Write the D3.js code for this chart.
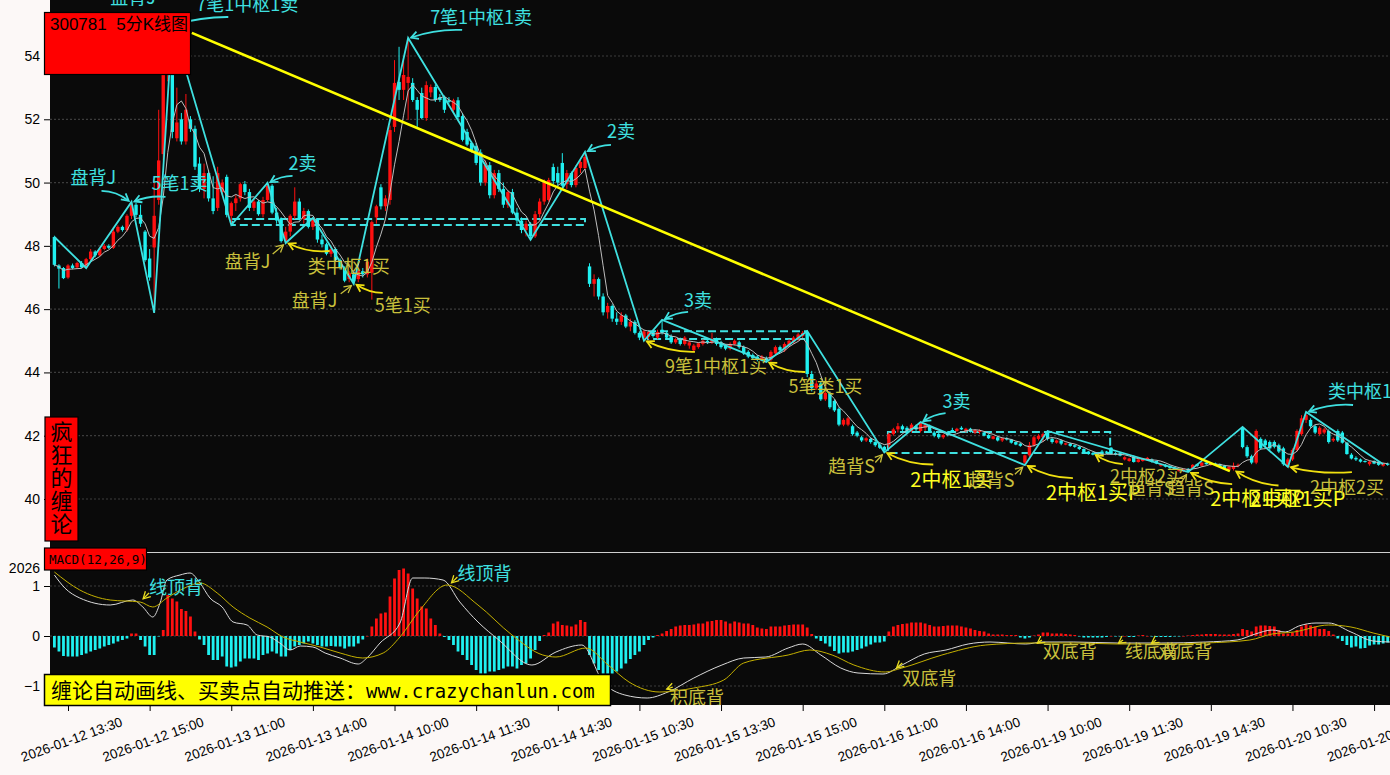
<!DOCTYPE html>
<html><head><meta charset="utf-8">
<script src="https://cdn.jsdelivr.net/npm/d3@7"></script>
<style>
html,body{margin:0;padding:0;background:#fcf8f7;}
svg{display:block;}
</style></head><body>
<svg id="c" width="1390" height="775"></svg>
<script>
// ---------- DATA ----------
// 5-minute bars of 300781, [open, high, low, close]
const bars = [
[48.28,48.32,47.35,47.40],[47.38,47.42,46.65,47.28],[47.30,47.33,46.95,46.98],[47.00,47.42,46.96,47.38],[47.38,47.44,47.26,47.30],
[47.32,47.50,47.28,47.46],[47.46,47.52,47.30,47.32],[47.32,47.62,47.30,47.58],[47.58,47.90,47.52,47.82],[47.82,47.86,47.64,47.70],
[47.70,47.96,47.66,47.90],[47.90,48.06,47.86,48.00],[48.00,48.05,47.90,47.94],[47.94,48.60,47.90,48.45],[48.45,48.65,48.40,48.60],
[48.60,48.64,48.45,48.50],[48.50,49.00,48.45,48.95],[48.95,49.39,48.85,49.30],[49.30,49.36,48.90,48.98],[48.98,49.30,48.60,48.70],
[48.45,48.50,47.50,47.55],[47.60,47.90,46.90,47.00],[47.95,50.10,45.88,48.95],[49.45,52.30,49.30,50.70],[50.90,53.90,50.70,53.50],
[53.50,54.90,53.20,54.60],[54.70,54.98,51.40,51.60],[51.40,53.00,51.30,51.90],[52.00,52.20,51.20,51.30],[51.30,52.80,51.20,52.30],
[52.00,52.10,51.60,51.70],[51.70,51.80,50.40,50.50],[50.60,50.80,49.70,49.80],[49.80,50.60,49.50,50.30],[50.30,50.40,49.40,49.50],
[49.50,50.20,49.00,49.10],[49.20,50.50,49.10,50.30],[49.70,50.10,49.60,50.00],[50.18,50.25,48.90,48.98],[48.95,49.40,48.66,49.35],
[49.35,49.60,49.10,49.50],[49.50,50.00,49.40,49.95],[49.95,50.05,49.60,49.70],[49.70,49.80,49.10,49.20],[49.20,49.50,49.10,49.40],
[49.40,49.45,48.95,49.00],[49.00,49.55,48.90,49.45],[49.45,49.99,49.40,49.90],[49.90,49.95,49.00,49.05],[49.05,49.20,48.70,48.80],
[48.85,48.90,48.10,48.15],[48.15,48.60,48.09,48.45],[48.45,49.00,48.30,48.95],[48.95,49.85,48.85,49.40],[49.40,49.50,48.80,48.85],
[48.85,49.20,48.70,49.10],[49.10,49.15,48.55,48.60],[48.60,48.88,48.50,48.85],[48.85,48.87,48.10,48.20],[48.20,48.35,47.95,48.05],
[48.05,48.10,47.70,47.75],[47.75,48.00,47.65,47.90],[47.90,47.95,47.50,47.55],[47.55,47.60,47.25,47.30],[47.30,47.35,46.85,46.90],
[46.95,47.20,46.85,47.15],[47.10,47.20,46.80,46.88],[46.95,47.25,46.85,47.20],[47.20,47.30,47.00,47.10],[47.10,47.60,47.00,47.50],
[47.15,48.80,46.30,48.75],[48.90,49.30,48.70,49.25],[49.85,49.95,49.15,49.25],[49.25,49.60,49.10,49.50],[49.45,51.80,49.30,51.66],
[51.76,53.87,51.60,53.15],[53.18,54.29,52.61,52.93],[52.93,53.87,52.61,53.40],[53.15,54.57,51.98,53.34],[53.15,53.30,52.55,52.61],
[52.61,52.70,51.76,52.30],[52.83,53.00,52.00,52.04],[52.04,53.20,51.95,53.08],[52.85,53.10,52.70,53.02],[53.02,53.10,52.55,52.61],
[52.70,52.80,52.55,52.61],[52.70,52.75,52.20,52.30],[52.60,52.70,52.50,52.55],[52.30,52.65,52.20,52.60],[52.60,52.70,52.00,52.07],
[52.10,52.20,51.30,51.35],[51.60,51.70,51.15,51.20],[51.25,51.30,50.95,51.03],[51.15,51.25,50.55,50.62],[50.95,51.05,49.90,50.00],
[50.00,50.70,49.90,50.55],[50.55,50.65,49.50,49.60],[49.60,50.40,49.50,50.30],[50.30,50.40,49.70,49.80],[49.80,50.00,49.20,49.30],
[49.30,49.75,49.20,49.70],[49.70,49.80,49.00,49.05],[49.05,49.20,48.70,48.80],[48.80,48.90,48.40,48.50],[48.50,48.80,48.30,48.70],
[48.70,48.75,48.19,48.30],[48.30,49.10,48.25,49.00],[49.00,49.50,48.90,49.40],[49.40,50.10,49.30,50.00],[49.45,50.15,49.40,50.08],
[50.49,50.60,49.95,50.05],[50.30,50.50,49.90,50.00],[50.62,50.93,49.85,49.90],[49.95,50.40,49.80,50.30],[50.30,50.35,49.85,49.92],
[49.92,50.55,49.85,50.46],[50.46,50.75,50.30,50.65],[50.46,50.97,50.40,50.81],[47.35,47.45,46.70,46.80],[46.80,47.10,46.40,46.95],
[46.95,47.00,46.30,46.40],[46.40,46.50,45.80,45.90],[45.90,46.20,45.70,46.10],[46.10,46.15,45.60,45.70],[45.70,45.90,45.50,45.60],
[45.60,45.90,45.50,45.80],[45.80,45.85,45.40,45.45],[45.45,45.70,45.30,45.60],[45.60,45.65,45.20,45.25],[45.25,45.30,45.02,45.10],
[45.10,45.35,45.00,45.30],[45.12,45.30,45.05,45.28],[45.28,45.35,45.10,45.15],[45.10,45.35,45.05,45.28],[45.35,45.66,45.20,45.25],
[45.25,45.30,45.05,45.10],[45.15,45.20,44.90,44.95],[44.95,45.10,44.90,45.05],[45.05,45.10,44.85,44.90],[44.90,45.15,44.85,45.10],
[44.85,45.00,44.75,44.95],[44.70,44.90,44.65,44.85],[44.80,44.95,44.75,44.92],[44.90,45.05,44.85,45.00],[45.00,45.05,44.90,44.95],
[44.95,45.25,44.90,45.05],[45.05,45.10,44.85,44.90],[44.95,45.00,44.75,44.80],[44.85,44.90,44.70,44.75],[44.75,44.95,44.70,44.90],
[44.90,45.05,44.85,45.00],[44.95,45.00,44.75,44.80],[44.80,44.85,44.55,44.60],[44.65,44.70,44.45,44.50],[44.55,44.60,44.40,44.45],
[44.50,44.55,44.35,44.40],[44.40,44.55,44.35,44.50],[44.45,44.50,44.33,44.38],[44.40,44.70,44.35,44.65],[44.60,44.85,44.55,44.80],
[44.80,44.85,44.65,44.70],[44.70,44.95,44.65,44.90],[44.85,45.05,44.80,45.00],[44.95,45.15,44.90,45.10],[45.05,45.25,45.00,45.20],
[45.15,45.31,45.10,45.25],[45.28,45.31,43.85,43.95],[43.95,44.05,43.40,43.50],[43.50,43.75,43.45,43.65],[43.65,43.70,43.10,43.15],
[43.15,43.40,43.10,43.35],[43.35,43.40,42.85,42.90],[43.10,43.15,42.75,42.80],[42.85,42.90,42.30,42.35],[42.35,42.55,42.30,42.50],
[42.35,42.60,42.30,42.55],[42.30,42.35,42.00,42.05],[42.10,42.15,41.95,42.00],[41.95,42.00,41.80,41.85],[41.85,41.95,41.80,41.92],
[41.90,41.95,41.75,41.80],[41.80,41.85,41.65,41.70],[41.72,41.78,41.58,41.62],[41.65,41.68,41.47,41.55],[41.70,42.10,41.60,42.05],
[42.05,42.25,42.00,42.20],[42.20,42.40,42.10,42.30],[42.30,42.35,42.15,42.20],[42.25,42.30,42.05,42.10],[42.15,42.40,42.10,42.35],
[42.30,42.35,42.15,42.20],[42.15,42.43,42.10,42.40],[42.25,42.40,42.15,42.35],[42.30,42.35,42.10,42.15],[42.10,42.15,41.95,42.00],
[42.05,42.10,41.90,41.95],[41.95,42.05,41.90,42.02],[42.10,42.15,41.98,42.02],[42.18,42.25,42.10,42.12],[42.15,42.25,42.12,42.22],
[42.25,42.30,42.18,42.20],[42.15,42.25,42.10,42.22],[42.22,42.25,42.10,42.12],[42.10,42.20,42.05,42.18],[42.12,42.20,42.05,42.15],
[42.10,42.12,41.98,42.00],[42.02,42.05,41.90,41.92],[41.90,42.00,41.88,41.98],[41.95,42.00,41.82,41.85],[41.85,41.95,41.80,41.92],
[41.92,41.95,41.85,41.88],[41.88,41.90,41.75,41.78],[41.80,41.82,41.70,41.72],[41.75,41.78,41.65,41.68],[41.15,41.40,41.07,41.38],
[41.38,41.80,41.30,41.70],[41.70,42.00,41.65,41.95],[41.90,42.05,41.85,42.00],[41.95,42.10,41.80,42.05],[42.10,42.15,41.85,41.90],
[41.90,41.95,41.75,41.80],[41.78,41.88,41.75,41.85],[41.85,41.88,41.70,41.75],[41.72,41.78,41.70,41.76],[41.75,41.78,41.65,41.68],
[41.70,41.72,41.62,41.65],[41.65,41.68,41.55,41.58],[41.58,41.60,41.45,41.48],[41.50,41.52,41.40,41.42],[41.45,41.50,41.38,41.40],
[41.42,41.45,41.35,41.38],[41.50,41.55,41.38,41.40],[41.50,41.52,41.45,41.47],[41.62,41.64,41.40,41.42],[41.45,41.48,41.38,41.40],
[41.45,41.48,41.35,41.37],[41.25,41.35,41.22,41.32],[41.20,41.30,41.18,41.28],[41.35,41.38,41.15,41.17],[41.17,41.28,41.15,41.25],
[41.20,41.30,41.18,41.28],[41.22,41.33,41.20,41.30],[41.25,41.28,41.15,41.18],[41.20,41.22,41.10,41.12],[41.05,41.12,41.02,41.10],
[41.08,41.10,41.00,41.02],[41.05,41.06,40.95,40.98],[41.00,41.02,40.92,40.94],[40.88,40.95,40.86,40.92],[40.88,40.96,40.85,40.93],
[40.95,40.98,40.85,40.88],[40.98,41.10,40.95,41.08],[41.10,41.12,41.02,41.05],[41.05,41.18,41.02,41.15],[41.15,41.18,41.08,41.10],
[41.08,41.15,41.05,41.12],[41.12,41.15,41.05,41.08],[41.10,41.12,41.00,41.02],[41.05,41.08,40.95,40.98],[40.92,41.05,40.88,41.02],
[40.95,41.15,40.90,41.05],[41.05,41.12,41.00,41.08],[42.25,42.28,41.60,41.64],[41.64,41.70,41.30,41.35],[41.35,41.40,41.10,41.15],
[41.15,42.20,41.10,42.15],[41.90,41.95,41.55,41.60],[41.85,41.90,41.60,41.70],[41.80,41.85,41.55,41.60],[41.80,41.85,41.60,41.65],
[41.70,41.75,41.45,41.50],[41.60,41.65,41.05,41.10],[41.01,41.30,41.01,41.25],[41.25,41.60,41.20,41.55],[41.55,42.20,41.50,42.15],
[42.05,42.65,42.00,42.55],[42.50,42.75,42.40,42.65],[42.50,42.55,42.25,42.30],[42.30,42.35,42.05,42.10],[42.05,42.30,42.00,42.25],
[42.10,42.25,42.05,42.20],[42.15,42.20,41.75,41.80],[41.85,41.95,41.80,41.90],[42.15,42.20,41.80,41.85],[42.10,42.15,41.75,41.78],
[41.78,41.80,41.40,41.42],[41.40,41.45,41.25,41.28],[41.30,41.35,41.20,41.25],[41.25,41.28,41.15,41.18],[41.20,41.22,41.15,41.17],
[41.10,41.22,41.05,41.18],[41.20,41.22,41.10,41.12],[41.18,41.20,41.05,41.08],[41.05,41.15,41.02,41.12],[41.12,41.15,41.05,41.08]
];

// MACD histogram (one per bar)
const macdHist = [
-0.23,-0.31,-0.40,-0.41,-0.41,-0.41,-0.38,-0.35,-0.31,-0.28,-0.25,-0.21,-0.18,-0.15,-0.11,-0.08,-0.05,
0.05,0.05,
-0.08,-0.21,-0.38,-0.38,-0.01,
0.12,0.82,0.75,0.69,0.54,0.50,0.39,0.09,
-0.07,-0.18,-0.38,-0.48,-0.48,-0.41,-0.61,-0.63,-0.61,-0.51,-0.45,-0.45,-0.45,-0.48,-0.38,-0.35,-0.31,-0.35,-0.41,-0.41,-0.28,-0.21,-0.18,-0.15,-0.11,-0.15,-0.18,-0.21,-0.21,-0.20,-0.21,-0.21,-0.25,-0.21,-0.21,-0.15,-0.07,
0.00,
0.19,0.35,0.45,0.47,0.79,1.15,1.32,1.35,1.25,0.95,0.75,0.59,0.55,0.35,0.22,0.05,-0.02,
-0.08,-0.18,-0.31,-0.38,-0.48,-0.58,-0.68,-0.75,-0.75,-0.71,-0.71,-0.68,-0.65,-0.61,-0.61,-0.65,-0.58,-0.55,-0.45,-0.28,-0.10,
0.02,0.07,0.25,0.29,0.22,0.21,0.19,0.23,0.32,0.28,
-0.38,-0.55,-0.68,-0.75,-0.75,-0.75,-0.71,-0.65,-0.55,-0.46,-0.38,-0.31,-0.18,-0.08,-0.03,
0.02,0.05,0.10,0.14,0.19,0.21,0.22,0.22,0.23,0.25,0.25,0.29,0.30,0.32,0.32,0.29,0.25,0.29,0.27,0.25,0.25,0.22,0.17,0.15,0.14,0.19,0.19,0.19,0.21,0.22,0.23,0.23,0.23,0.17,0.04,
-0.05,-0.10,-0.15,-0.21,-0.30,-0.35,-0.33,-0.33,-0.31,-0.28,-0.25,-0.21,-0.17,-0.13,-0.13,-0.11,
0.09,0.19,0.22,0.24,0.25,0.27,0.27,0.27,0.25,0.22,0.19,0.19,0.20,0.21,0.21,0.21,0.19,0.17,0.15,0.12,0.10,0.09,0.05,0.03,0.03,0.03,0.02,0.02,0.02,
-0.03,-0.05,-0.03,0.01,0.03,0.07,0.07,0.05,0.05,0.05,0.04,0.03,0.02,-0.01,-0.03,-0.03,-0.03,-0.03,-0.03,-0.02,0.00,
-0.01,-0.01,0.00,-0.02,-0.02,0.01,0.02,0.00,-0.01,-0.02,-0.02,-0.02,-0.02,-0.01,-0.01,0.00,0.01,0.02,0.03,0.03,0.04,0.04,0.04,0.03,0.03,0.03,0.04,0.05,
0.14,0.12,0.09,0.19,0.21,0.21,0.20,0.19,0.12,0.05,0.05,0.07,0.12,0.19,0.23,0.21,0.19,0.14,0.14,0.10,0.03,
-0.05,-0.10,-0.18,-0.23,-0.21,-0.25,-0.24,-0.19,-0.17,-0.17,-0.15,-0.13
];

// DIF line, read at [bar index, value]
const difPts = [
[0,1.22],[2.3,0.96],[5.6,0.76],[12.3,0.62],[17.3,0.72],[19.5,0.58],[21.7,0.38],[23.3,0.66],[24.8,1.12],[27.7,1.22],
[29.9,1.26],[32.1,1.06],[34.3,0.76],[37,0.58],[39.4,0.28],[42.5,0.22],[44.7,0.02],[47.5,-0.02],[49.7,-0.14],[52,-0.28],
[54.2,-0.20],[57,-0.22],[59.7,-0.34],[63,-0.44],[67,-0.56],[68.9,-0.44],[71.8,-0.14],[76.2,0.26],[79,1.16],[81.7,1.16],
[85.7,1.12],[89.4,0.68],[93.4,0.28],[98,-0.08],[105.3,-0.58],[110.6,-0.32],[116.3,-0.18],[121,-0.92],[125.8,-1.18],[130.7,-1.24],
[135.3,-1.12],[141,-0.84],[147.2,-0.58],[152,-0.44],[156.9,-0.42],[161.8,-0.24],[165,-0.16],[169,-0.38],[173.4,-0.64],[177.2,-0.74],
[182.7,-0.76],[186.9,-0.58],[191.8,-0.36],[196.6,-0.28],[201.5,-0.16],[206.3,-0.12],[214.2,-0.16],[218,-0.12],[224.8,-0.12],[234.5,-0.14],
[244.2,-0.14],[253.9,-0.12],[260.8,-0.08],[264.8,0.04],[268.5,0.12],[271.4,0.08],[274.4,0.20],[278.2,0.26],[281,0.26],[285.9,0.08],
[290.8,-0.10],[294.5,-0.12]
];
// DEA line, read at [bar index, value]
const deaPts = [
[0,1.28],[5.6,0.92],[12.3,0.72],[18.9,0.68],[21.7,0.58],[24.8,0.76],[29.2,0.98],[32.1,1.06],[35.9,0.86],[39.4,0.58],
[43.1,0.36],[46.9,0.18],[50.4,-0.02],[54.2,-0.12],[58.6,-0.22],[63,-0.34],[68,-0.44],[72.5,-0.34],[76.2,-0.02],[80.6,0.52],
[86.6,1.02],[93.4,0.62],[100.9,0.02],[107.7,-0.38],[110.6,-0.42],[117.2,-0.24],[122.1,-0.58],[126.7,-0.92],[133.5,-1.12],[141,-1.04],
[147.6,-0.88],[152,-0.54],[161.8,-0.38],[166.6,-0.28],[171.5,-0.38],[176.3,-0.58],[183.2,-0.72],[186.9,-0.64],[195.7,-0.38],[205.4,-0.18],
[215.1,-0.14],[224.8,-0.14],[234.5,-0.16],[244.2,-0.16],[253.9,-0.14],[263.6,-0.08],[268.5,0.04],[273.3,0.08],[281,0.22],[285.9,0.18],
[290.8,0.06],[294.5,-0.02]
];

// Chan-theory strokes (bi) turning points [bar index, price]
const biPts = [
[0,48.28],[7,47.30],[17,49.39],[22,45.88],[26,54.98],[39,48.66],[47,49.99],[51,48.09],[57,48.88],[66,46.80],
[78,54.57],[105,48.19],[117,50.97],[130,45.00],[134,45.66],[157,44.33],[166,45.31],[183,41.47],[191,42.43],[214,41.07],
[219,42.15],[250,40.85],[262,42.28],[272,41.01],[276,42.75],[293,41.10]
];
// central zones (zhongshu) [startIdx, endIdx, low, high]
const zsStart = [39.2, 130.9, 183.8];
const zsEnd   = [117.0, 165.9, 232.8];
const zsLow   = [48.66, 45.06, 41.45];
const zsHigh  = [48.85, 45.30, 42.12];
// trend line [bar index, price]
const trendPts = [[30.3,54.73],[259.2,40.88]];

const priceTicks = [40,42,44,46,48,50,52,54];
const macdTickVals = [-1,0,1,1.36];
const macdTickText = ["\u22121","0","1","2026"];
const xTickIdx = [3,21,39,57,75,93,111,129,147,165,183,201,219,237,255,273,291];
const xTickLabels = ["2026-01-12 13:30","2026-01-12 15:00","2026-01-13 11:00","2026-01-13 14:00","2026-01-14 10:00",
"2026-01-14 11:30","2026-01-14 14:30","2026-01-15 10:30","2026-01-15 13:30","2026-01-15 15:00","2026-01-16 11:00",
"2026-01-16 14:00","2026-01-19 10:00","2026-01-19 11:30","2026-01-19 14:30","2026-01-20 10:30","2026-01-20 13:30"];

// signal labels: text, style, target bar, target price, arrow kind
const noteText  = ["盘背J","7笔1中枢1卖","盘背J","5笔1卖","2卖","7笔1中枢1卖","2卖","3卖","3卖","类中枢1",
 "盘背J","类中枢1买","盘背J","5笔1买","9笔1中枢1买","5笔类1买","趋背S","2中枢1买","趋背S","2中枢1买P",
 "2中枢2买","趋背S","趋背S","2中枢1买P","2中枢1买P","2中枢2买"];
const noteStyle = ["c","c","c","c","c","c","c","c","c","c",
 "o","o","o","o","o","o","o","y","o","y",
 "o","o","o","y","y","o"];
const noteIdx   = [26,26,17,17,47,78,117,134,191,276, 51,51,66,66,130,157,183,183,214,214, 229,238,250,250,260,272];
const notePrice = [54.98,54.98,49.39,49.39,49.99,54.57,50.97,45.66,42.43,42.75, 48.09,48.09,46.80,46.80,45.00,44.33,41.47,41.47,41.07,41.07, 41.42,41.17,40.85,40.85,40.90,41.01];
// layout of labels relative to their target (pixels)
const noteLayout = [
 [-62,-21,null],[24,-14,[56,-8,4]],[-61,-18,[-30,-11,-5]],[20,-12,[34,-5,4]],[21,-13,[25,-7,3]],
 [22,-14,[54,-8,5]],[22,-14,[26,-7,3]],[22,-13,[26,-8,3]],[22,-14,[25,-9,3]],[22,-14,[47,-7,5]],
 [-61,25,[-13,11,0,1]],[22,30,[44,8,-6]],[-62,23,[-13,10,0,1]],[21,28,[29,9,-4]],[21,32,[51,11,-6]],
 [22,31,[39,10,-5]],[-56,21,[-9,10,0,1]],[26,35,[49,12,-6]],[-57,22,[-10,9,0,1]],[21,35,[48,13,-6]],
 [17,29,[30,10,-4]],[-6,33,null],[-21,23,[-6,9,0,1]],[22,34,[44,12,-5]],[17,35,[45,15,-6]],[22,27,[64,5,-5]]
];

// MACD divergence labels
const mNoteText = ["线顶背","线顶背","积底背","双底背","双底背","线底背","双底背"];
const mNoteStyle = ["c","c","o","o","o","o","o"];
const mNoteIdx = [19.1,87.1,134.4,185.2,216.2,234.1,241.4];
const mNoteVal = [0.70,1.02,-1.08,-0.68,-0.18,-0.18,-0.18];
const mNoteLayout = [[8,-7,[8,-8]],[8,-5,[8,-8]],[6,14,[9,-3]],[8,15,[8,-7]],[8,13,[7,-5]],[9,13,[7,-5]],[9,13,[7,-5]]];

// ---------- DRAW ----------
const W = 1390, H = 775;
const svg = d3.select("#c");
const L = 50, R = 1390, mainTop = 0, mainBot = 550, macdTop = 552, macdBot = 705;
const N = bars.length;
const x = d3.scaleLinear().domain([0, 294]).range([54.4, 54.4 + 294 * 4.535]);
const y = d3.scaleLinear().domain([40, 54]).range([499, 56]);
const ym = d3.scaleLinear().domain([-1, 1]).range([686, 586]);

const UP = "#ff1010", DN = "#1ff0f0", CY = "#3fe0e0", OL = "#c9c03c", YL = "#ffff22", AY = "#f0e010";
const colorOf = s => s === "c" ? CY : (s === "o" ? OL : YL);

svg.append("rect").attr("width", W).attr("height", H).attr("fill", "#fcf8f7");
svg.append("rect").attr("x", L).attr("y", 0).attr("width", R - L).attr("height", macdBot).attr("fill", "#0a0a0a");

const defs = svg.append("defs");
defs.append("clipPath").attr("id", "cm").append("rect").attr("x", L).attr("y", mainTop).attr("width", R - L).attr("height", mainBot - mainTop);
defs.append("clipPath").attr("id", "cd").append("rect").attr("x", L).attr("y", macdTop).attr("width", R - L).attr("height", macdBot - macdTop);

// grid
const gm = svg.append("g").attr("clip-path", "url(#cm)");
gm.selectAll("line.g").data(priceTicks).enter().append("line")
  .attr("x1", L).attr("x2", R).attr("y1", d => y(d)).attr("y2", d => y(d))
  .attr("stroke", "#3c3c3c").attr("stroke-width", 1.2).attr("stroke-dasharray", "2,2");

// central zones
zsStart.forEach((s, k) => {
  gm.append("rect").attr("x", x(s)).attr("y", y(zsHigh[k])).attr("width", x(zsEnd[k]) - x(s))
    .attr("height", y(zsLow[k]) - y(zsHigh[k])).attr("fill", "none")
    .attr("stroke", CY).attr("stroke-width", 2).attr("stroke-dasharray", "8,4");
});

// candles
const bw = 3.4;
const cg = gm.append("g");
bars.forEach((b, i) => {
  const [o, h, l, c] = b;
  const col = c >= o ? UP : DN;
  const cx = x(i);
  cg.append("line").attr("x1", cx).attr("x2", cx).attr("y1", y(h)).attr("y2", y(l)).attr("stroke", col).attr("stroke-width", 1);
  const top = y(Math.max(o, c)), bot = y(Math.min(o, c));
  cg.append("rect").attr("x", cx - bw / 2).attr("y", top).attr("width", bw).attr("height", Math.max(1, bot - top)).attr("fill", col);
});

// moving average (5) of closes
const closes = bars.map(b => b[3]);
const ma = closes.map((c, i) => d3.mean(closes.slice(Math.max(0, i - 4), i + 1)));
gm.append("path").datum(ma).attr("fill", "none").attr("stroke", "#bdbdbd").attr("stroke-width", 1)
  .attr("d", d3.line().x((d, i) => x(i)).y(d => y(d)));

// strokes
gm.append("path").datum(biPts).attr("fill", "none").attr("stroke", CY).attr("stroke-width", 1.8)
  .attr("d", d3.line().x(d => x(d[0])).y(d => y(d[1])));

// trend line
gm.append("path").datum(trendPts).attr("fill", "none").attr("stroke", "#ffff00").attr("stroke-width", 2.6)
  .attr("d", d3.line().x(d => x(d[0])).y(d => y(d[1])));

// arrow helper
function arrow(g, sx, sy, tx, ty, bend, color, w) {
  const dx = tx - sx, dy = ty - sy, len = Math.hypot(dx, dy);
  const ex = tx - dx / len * 3, ey = ty - dy / len * 3;
  const mx = (sx + ex) / 2 - dy / len * bend, my = (sy + ey) / 2 + dx / len * bend;
  g.append("path").attr("d", `M${sx},${sy} Q${mx},${my} ${ex},${ey}`).attr("fill", "none")
    .attr("stroke", color).attr("stroke-width", w);
  const ang = Math.atan2(ey - my, ex - mx), a = 0.5, hl = 8;
  const p1 = [ex - hl * Math.cos(ang - a), ey - hl * Math.sin(ang - a)];
  const p2 = [ex - hl * Math.cos(ang + a), ey - hl * Math.sin(ang + a)];
  g.append("path").attr("d", `M${p1[0]},${p1[1]} L${ex},${ey} L${p2[0]},${p2[1]}`)
    .attr("fill", "none").attr("stroke", color).attr("stroke-width", w);
}

const ng = gm.append("g");
noteText.forEach((t, k) => {
  const tx = x(noteIdx[k]), ty = y(notePrice[k]);
  const [lx, ly, ar] = noteLayout[k];
  const st = noteStyle[k];
  const col = colorOf(st);
  if (ar) {
    const small = ar[3] === 1;
    const acol = st === "c" ? CY : (small ? OL : AY);
    arrow(ng, tx + ar[0], ty + ar[1], tx, ty, ar[2], acol, small ? 1.3 : 1.8);
  }
  ng.append("text").attr("x", tx + lx).attr("y", ty + ly).text(t)
    .attr("fill", col).attr("font-family", "'Noto Sans CJK SC', sans-serif")
    .attr("font-size", st === "y" ? 20 : 18);
});

// MACD panel
const gd = svg.append("g").attr("clip-path", "url(#cd)");
gd.selectAll("line.mg").data([-1, 0, 1]).enter().append("line")
  .attr("x1", L).attr("x2", R).attr("y1", d => ym(d)).attr("y2", d => ym(d))
  .attr("stroke", "#3c3c3c").attr("stroke-width", 1.2).attr("stroke-dasharray", "2,2");
gd.append("line").attr("x1", L).attr("x2", R).attr("y1", macdTop + 0.5).attr("y2", macdTop + 0.5).attr("stroke", "#cfcfcf").attr("stroke-width", 1);
macdHist.forEach((v, i) => {
  gd.append("rect").attr("x", x(i) - 1.4).attr("width", 2.8)
    .attr("y", v >= 0 ? ym(v) : ym(0)).attr("height", Math.max(0.5, Math.abs(ym(v) - ym(0))))
    .attr("fill", v >= 0 ? UP : DN);
});
const ml = d3.line().x(d => x(d[0])).y(d => ym(d[1])).curve(d3.curveMonotoneX);
gd.append("path").datum(difPts).attr("fill", "none").attr("stroke", "#d9d9d9").attr("stroke-width", 1).attr("d", ml);
gd.append("path").datum(deaPts).attr("fill", "none").attr("stroke", "#c4b000").attr("stroke-width", 1).attr("d", ml);
mNoteText.forEach((t, k) => {
  const tx = x(mNoteIdx[k]), ty = ym(mNoteVal[k]);
  const [lx, ly, ar] = mNoteLayout[k];
  const col = colorOf(mNoteStyle[k]);
  arrow(gd, tx + ar[0], ty + ar[1], tx, ty, 0, "#e8dc20", 1.3);
  gd.append("text").attr("x", tx + lx).attr("y", ty + ly).text(t).attr("fill", col)
    .attr("font-family", "'Noto Sans CJK SC', sans-serif").attr("font-size", 18);
});

// axes
const ax = svg.append("g").attr("transform", `translate(${L},0)`)
  .call(d3.axisLeft(y).tickValues(priceTicks).tickSize(6).tickPadding(4).tickFormat(d3.format("d")));
const axm = svg.append("g").attr("transform", `translate(${L},0)`)
  .call(d3.axisLeft(ym).tickValues(macdTickVals).tickSize(6).tickPadding(4).tickFormat((d, k) => macdTickText[k]));
const axb = svg.append("g").attr("transform", `translate(0,${macdBot})`)
  .call(d3.axisBottom(x).tickValues(xTickIdx).tickSize(6).tickFormat((d, k) => xTickLabels[k]));
[ax, axm, axb].forEach(a => {
  a.select(".domain").remove();
  a.selectAll("line").attr("stroke", "#000");
  a.selectAll("text").attr("fill", "#000").attr("font-family", "'Liberation Sans', Arial, sans-serif").attr("font-size", 14);
});
axb.selectAll("text").attr("font-size", 13.5).attr("text-anchor", "middle").attr("dy", "0.35em")
  .attr("transform", "translate(0,26) rotate(-20)");

// title box
svg.append("rect").attr("x", 44.5).attr("y", 12.5).attr("width", 146).attr("height", 62)
  .attr("fill", "#ff0000").attr("stroke", "#000").attr("stroke-width", 1.2);
svg.append("text").attr("x", 50).attr("y", 30).attr("fill", "#000")
  .attr("font-family", "'Liberation Sans', 'Noto Sans CJK SC', sans-serif").attr("font-size", 17)
  .style("white-space", "pre").text("300781  5分K线图");

// vertical box
svg.append("rect").attr("x", 45).attr("y", 417).attr("width", 33).attr("height", 124)
  .attr("fill", "#ff0000").attr("stroke", "#000").attr("stroke-width", 1.2);
Array.from("疯狂的缠论").forEach((ch, k) => {
  svg.append("text").attr("x", 61.5).attr("y", 440 + k * 23).attr("text-anchor", "middle").attr("fill", "#000")
    .attr("font-family", "'Noto Sans CJK SC', sans-serif").attr("font-size", 22).text(ch);
});

// MACD label box
svg.append("rect").attr("x", 44.5).attr("y", 548).attr("width", 102).attr("height", 22)
  .attr("fill", "#ff0000").attr("stroke", "#000").attr("stroke-width", 1.2);
svg.append("text").attr("x", 49).attr("y", 564).attr("fill", "#000")
  .attr("font-family", "'DejaVu Sans Mono', monospace").attr("font-size", 12.5).text("MACD(12,26,9)");

// promo box
svg.append("rect").attr("x", 44.5).attr("y", 674.5).attr("width", 566).attr("height", 31)
  .attr("fill", "#ffff00").attr("stroke", "#000").attr("stroke-width", 1.5);
const pt = svg.append("text").attr("x", 51).attr("y", 698).attr("fill", "#000");
pt.append("tspan").attr("font-family", "'Noto Sans CJK SC', sans-serif").attr("font-size", 21).text("缠论自动画线、买卖点自动推送：");
pt.append("tspan").attr("font-family", "'DejaVu Sans Mono', monospace").attr("font-size", 19).text("www.crazychanlun.com");
</script>
</body></html>
